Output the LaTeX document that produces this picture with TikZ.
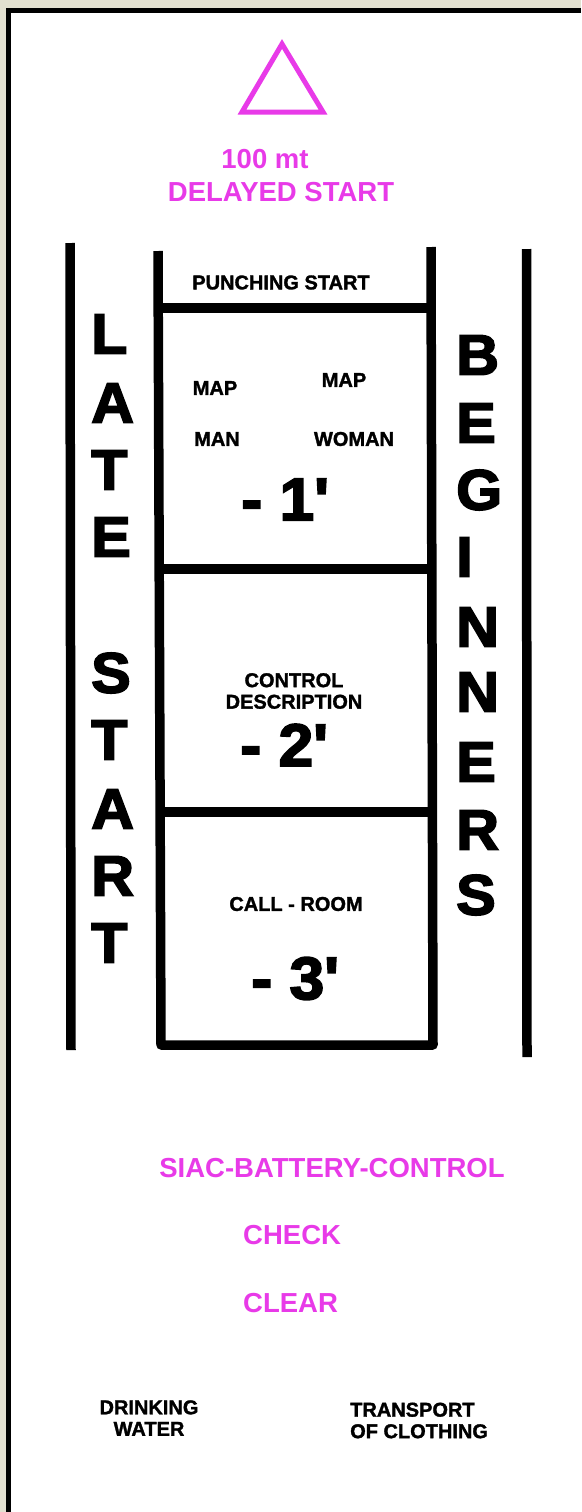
\documentclass[tikz,border=0pt]{standalone}
\usepackage{fontspec}
\setmainfont{Liberation Sans}
\newfontfamily\heavyfont{Liberation Sans}[BoldFeatures={FakeBold=1.5}]
\newfontfamily\blackfont{Liberation Sans}[BoldFeatures={FakeBold=3,FakeStretch=1.04}]
\usepackage{tikz}

\definecolor{startpink}{RGB}{232,58,232}
\definecolor{mapbg}{RGB}{226,224,208}

\tikzset{
  wall/.style={line width=9.5pt, line cap=butt, line join=round},
  pinktxt/.style={inner sep=0pt, text=startpink, font=\fontsize{27.5}{30}\selectfont\bfseries},
  smalltxt/.style={inner sep=0pt, font=\heavyfont\fontsize{20}{21.5}\selectfont\bfseries},
  bigletter/.style={inner sep=0pt, anchor=west, font=\blackfont\fontsize{57}{60}\selectfont\bfseries},
  bignum/.style={inner sep=0pt, font=\blackfont\fontsize{60}{60}\selectfont\bfseries},
}

\begin{document}
\begin{tikzpicture}[x=1pt, y=-1pt]
	\useasboundingbox (0,0) rectangle (581,1512);
	% panel
	\fill[mapbg] (0,0) rectangle (581,1512);
	\fill[white] (8,10.5) rectangle (581,1512);
	\draw[line width=5pt] (8,1512) -- (8,10.5) -- (581,10.5);

	% delayed start mark
	\coordinate (tip) at (282,44);
	\coordinate (baseL) at (242,112);
	\coordinate (baseR) at (323,112);
	\draw[startpink, line width=5pt, line join=miter] (tip) -- (baseL) -- (baseR) -- cycle;
	\node[pinktxt] (dist) at (265,159) {100 mt};
	\node[pinktxt] (delayed) at (281,192) {DELAYED START};

	% lanes
	\draw[wall] (70,243) -- (71,1050);
	\draw[wall] (526.5,249) -- (527,1057);
	\draw[wall] (158,251) -- (161,1045) -- (433,1045) -- (431,247);
	\draw[wall] (158,308) -- (431,308);
	\draw[wall] (158,569) -- (432,569);
	\draw[wall] (160,812) -- (432,812);

	% inside the start corridor
	\node[smalltxt] (punch) at (281,282.5) {PUNCHING START};
	\node[smalltxt] (mapman) at (215,388) {MAP};
	\node[smalltxt] (mapwoman) at (344,380) {MAP};
	\node[smalltxt] (man) at (217,439) {MAN};
	\node[smalltxt] (woman) at (354,439) {WOMAN};
	\node[bignum] (min1) at (285,499.5) {- 1\textquotesingle};

	\node[smalltxt, align=center] (descr) at (294,691) {CONTROL\\DESCRIPTION};
	\node[bignum] (min2) at (284,745) {- 2\textquotesingle};

	\node[smalltxt] (callroom) at (296,904) {CALL - ROOM};
	\node[bignum] (min3) at (295,978.5) {- 3\textquotesingle};

	% side lanes
	\foreach \ch/\y [count=\i] in {L/334,A/403,T/470,E/537,S/673,T/740,A/809,R/876,T/943}
		\node[bigletter] (late\i) at (91,\y) {\ch};
	\foreach \ch/\y [count=\i] in {B/355,E/423,G/490,I/557,N/627,N/692,E/762,R/830,S/895}
		\node[bigletter] (begin\i) at (456,\y) {\ch};

	% after the finish
	\node[pinktxt] (siac) at (332,1168) {SIAC-BATTERY-CONTROL};
	\node[pinktxt, anchor=west] (check) at (243,1235) {CHECK};
	\node[pinktxt, anchor=west] (clear) at (243,1303) {CLEAR};

	\node[smalltxt, align=center] (water) at (149,1418) {DRINKING\\WATER};
	\node[smalltxt, align=left, anchor=west] (clothing) at (350,1420.5) {TRANSPORT\\OF CLOTHING};
\end{tikzpicture}
\end{document}
